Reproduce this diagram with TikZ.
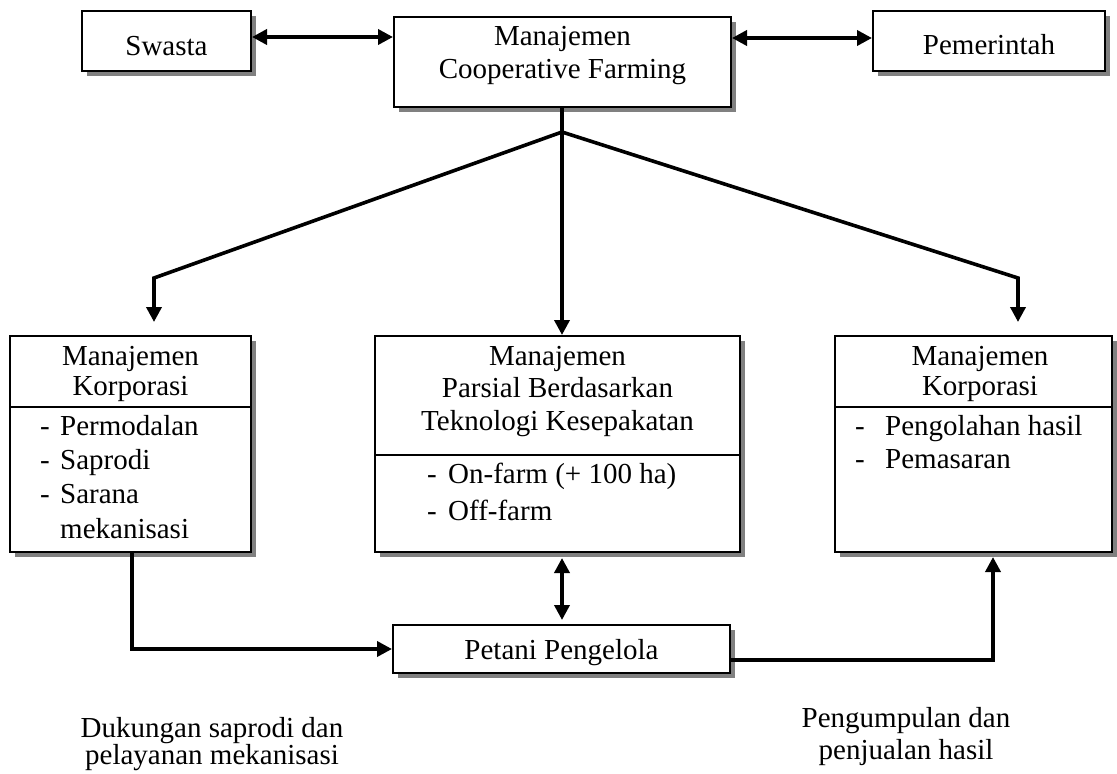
\documentclass[tikz,border=0pt]{standalone}
\usepackage{fontspec}
\setmainfont{Liberation Serif}
\usetikzlibrary{arrows.meta,shadows}
\begin{document}
\begin{tikzpicture}[x=1pt,y=-1pt,
  box/.style={draw=black, line width=2pt, fill=white, inner sep=0pt,
    drop shadow={shadow xshift=5pt, shadow yshift=-5pt, fill=black!50, opacity=1}},
  txt/.style={font=\fontsize{29}{33}\selectfont, inner sep=0pt, anchor=base},
  txtw/.style={txt, anchor=base west},
  conn/.style={line width=3.6pt},
  tip/.style={-{Triangle[length=15pt,width=15pt]}},
  dtip/.style={{Triangle[length=15pt,width=15pt]}-{Triangle[length=15pt,width=15pt]}}]
\fill[white] (0,0) rectangle (1117,774);
\useasboundingbox (0,0) rectangle (1117,774);

% boxes
\node[box, minimum width=169pt, minimum height=60pt] (swasta) at (166.5,41) {};
\node[box, minimum width=337pt, minimum height=90pt] (cf) at (562.5,62) {};
\node[box, minimum width=232pt, minimum height=60pt] (pem) at (989,41) {};
\node[box, minimum width=241pt, minimum height=216pt] (left) at (130.5,444) {};
\node[box, minimum width=365pt, minimum height=216pt] (mid) at (557.5,444) {};
\node[box, minimum width=277pt, minimum height=216pt] (right) at (973.5,444) {};
\node[box, minimum width=337pt, minimum height=48pt] (pet) at (561.5,649) {};

% dividers
\draw[line width=2pt] ([yshift=-72pt]left.north west) -- ([yshift=-72pt]left.north east);
\draw[line width=2pt] ([yshift=-120pt]mid.north west) -- ([yshift=-120pt]mid.north east);
\draw[line width=2pt] ([yshift=-72pt]right.north west) -- ([yshift=-72pt]right.north east);

% texts
\node[txt] (t1) at (166.5,55) {Swasta};
\node[txt] (t2) at (562.5,45) {Manajemen};
\node[txt] (t3) at (562.5,78) {Cooperative Farming};
\node[txt] (t4) at (989,54) {Pemerintah};

\node[txt] (l1) at (130.5,365) {Manajemen};
\node[txt] (l2) at (130.5,395) {Korporasi};
\node[txtw] (l3d) at (40,435) {-};
\node[txtw] (l3) at (60,435) {Permodalan};
\node[txtw] (l4d) at (40,469) {-};
\node[txtw] (l4) at (60,469) {Saprodi};
\node[txtw] (l5d) at (40,503) {-};
\node[txtw] (l5) at (60,503) {Sarana};
\node[txtw] (l6) at (60,538) {mekanisasi};

\node[txt] (m1) at (557.5,365) {Manajemen};
\node[txt] (m2) at (557.5,397) {Parsial Berdasarkan};
\node[txt] (m3) at (557.5,430) {Teknologi Kesepakatan};
\node[txtw] (m4d) at (427,483) {-};
\node[txtw] (m4) at (448,483) {On-farm (+ 100 ha)};
\node[txtw] (m5d) at (427,520) {-};
\node[txtw] (m5) at (448,520) {Off-farm};

\node[txt] (r1) at (980,365) {Manajemen};
\node[txt] (r2) at (980,395) {Korporasi};
\node[txtw] (r3d) at (855,435) {-};
\node[txtw] (r3) at (885,435) {Pengolahan hasil};
\node[txtw] (r4d) at (855,468) {-};
\node[txtw] (r4) at (885,468) {Pemasaran};

\node[txt] (p1) at (561.5,659) {Petani Pengelola};

\node[txt] (b1) at (212,737) {Dukungan saprodi dan};
\node[txt] (b2) at (212,764) {pelayanan mekanisasi};
\node[txt] (b3) at (906,727) {Pengumpulan dan};
\node[txt] (b4) at (906,759) {penjualan hasil};

% coordinates
\coordinate (j) at (562,132);
\coordinate (lb) at (154,278);
\coordinate (lt) at (154,322);
\coordinate (rb) at (1018,278);
\coordinate (rt) at (1018,322);
\coordinate (mu) at (562,558);
\coordinate (md) at (562,620);
\coordinate (lc) at (132,649);
\coordinate (rc) at (993,660);
\coordinate (ru) at (993,557);

% connectors
\draw[conn,dtip] ([yshift=4pt]swasta.east) -- ([yshift=4pt]swasta.east -| cf.west);
\draw[conn,dtip] ([yshift=3pt]cf.east |- pem.east) -- ([yshift=3pt]pem.west);
\draw[conn] (cf.south -| j) -- (j);
\draw[conn,tip] (j) -- (lb) -- (lt);
\draw[conn,tip] (j) -- (j |- mid.north);
\draw[conn,tip] (j) -- (rb) -- (rt);
\draw[conn,dtip] (mu) -- (md);
\draw[conn,tip] (lc |- left.south) -- (lc) -- (pet.west);
\draw[conn,tip] (pet.east |- rc) -- (rc) -- (ru);
\end{tikzpicture}
\end{document}
